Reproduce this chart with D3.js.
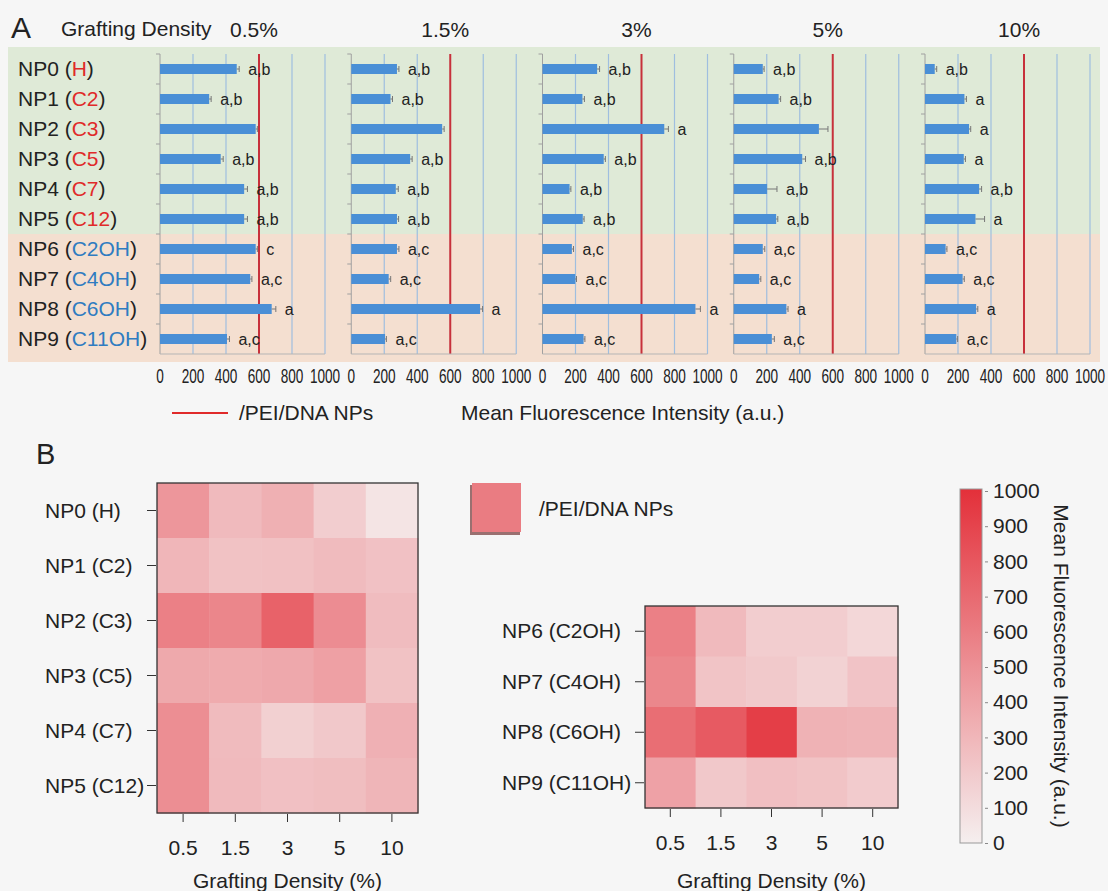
<!DOCTYPE html>
<html>
<head>
<meta charset="utf-8">
<script src="https://cdn.jsdelivr.net/npm/d3@7"></script>
<style>
  body { margin: 0; background: #f6f6f6; }
  text { font-family: "Liberation Sans", Arial, sans-serif; fill: #222; }
</style>
</head>
<body>
<svg id="chart" width="1108" height="891"></svg>
<script>
// ---- data ----
const particles = ["NP0", "NP1", "NP2", "NP3", "NP4", "NP5", "NP6", "NP7", "NP8", "NP9"];
const ligands = ["H", "C2", "C3", "C5", "C7", "C12", "C2OH", "C4OH", "C6OH", "C11OH"];
const densities = ["0.5", "1.5", "3", "5", "10"];

const mfi05 = [465, 298, 580, 368, 510, 510, 580, 547, 677, 406];
const mfi15 = [277, 238, 551, 357, 270, 277, 277, 227, 781, 205];
const mfi3 = [331, 242, 738, 371, 164, 244, 178, 198, 927, 249];
const mfi5 = [176, 272, 516, 415, 202, 257, 176, 154, 319, 231];
const mfi10 = [59, 239, 267, 235, 328, 306, 125, 228, 310, 190];

const err05 = [15, 12, 10, 15, 20, 20, 10, 10, 25, 15];
const err15 = [12, 12, 12, 12, 15, 10, 12, 12, 15, 8];
const err3 = [15, 12, 25, 10, 8, 8, 10, 8, 30, 8];
const err5 = [8, 12, 55, 20, 60, 10, 12, 10, 10, 15];
const err10 = [12, 12, 10, 10, 15, 55, 8, 10, 10, 8];

const sig05 = ["a,b", "a,b", "", "a,b", "a,b", "a,b", "c", "a,c", "a", "a,c"];
const sig15 = ["a,b", "a,b", "", "a,b", "a,b", "a,b", "a,c", "a,c", "a", "a,c"];
const sig3 = ["a,b", "a,b", "a", "a,b", "a,b", "a,b", "a,c", "a,c", "a", "a,c"];
const sig5 = ["a,b", "a,b", "", "a,b", "a,b", "a,b", "a,c", "a,c", "a", "a,c"];
const sig10 = ["a,b", "a", "a", "a", "a,b", "a", "a,c", "a,c", "a", "a,c"];

const pei = 600;   // /PEI/DNA NPs reference
const barTicks = [0, 200, 400, 600, 800, 1000];
const colorTicks = [0, 100, 200, 300, 400, 500, 600, 700, 800, 900, 1000];

const values = [mfi05, mfi15, mfi3, mfi5, mfi10];
const errors = [err05, err15, err3, err5, err10];
const letters = [sig05, sig15, sig3, sig5, sig10];

const svg = d3.select("#chart");
const red = "#e02a2a", blue = "#2f7cc1";
const FS = 21;

// ================= panel A =================
const rowY = d3.scaleBand().domain(particles).range([54, 354]);
const panelX = d3.scalePoint().domain(densities).range([160, 925]);
const x = d3.scaleLinear().domain([0, 1000]).range([0, 165]);

svg.append("rect").attr("x", 8).attr("y", 47).attr("width", 1092).attr("height", rowY("NP6") - 47)
    .attr("fill", "#dfead7");
svg.append("rect").attr("x", 8).attr("y", rowY("NP6")).attr("width", 1092).attr("height", 362 - rowY("NP6"))
    .attr("fill", "#f4dfd0");

svg.append("text").attr("x", 11).attr("y", 38).attr("font-size", 30).text("A");
svg.append("text").attr("x", 61).attr("y", 36).attr("font-size", FS).text("Grafting Density");

// row labels
const rowLab = svg.append("g").selectAll("text").data(particles).join("text")
    .attr("x", 18).attr("y", d => rowY(d) + rowY.bandwidth() / 2 + 7)
    .attr("font-size", FS);
rowLab.append("tspan").text(d => d + " (");
rowLab.append("tspan").attr("fill", (d, i) => i < 6 ? red : blue).text((d, i) => ligands[i]);
rowLab.append("tspan").text(")");

densities.forEach((dens, k) => {
    const g = svg.append("g").attr("transform", `translate(${panelX(dens)},0)`);
    const y0 = rowY.range()[0], y1 = rowY.range()[1];

    g.append("text").attr("x", x(570)).attr("y", 37).attr("text-anchor", "middle")
        .attr("font-size", FS).text(dens + "%");

    // grid
    g.selectAll("line.grid").data(barTicks.filter(t => t > 0)).join("line")
        .attr("class", "grid")
        .attr("x1", d => x(d)).attr("x2", d => x(d)).attr("y1", y0).attr("y2", y1)
        .attr("stroke", d => d === pei ? "#c7303b" : "#9fbedf")
        .attr("stroke-width", d => d === pei ? 2 : 1.2);

    // axis at 0 with ticks between categories
    g.append("line").attr("x1", 0).attr("x2", 0).attr("y1", y0).attr("y2", y1).attr("stroke", "#a0a0a0");
    g.append("line").attr("x1", 0).attr("x2", x(1000)).attr("y1", y1).attr("y2", y1).attr("stroke", "#b5b5b5");
    g.selectAll("line.tk").data(particles).join("line").attr("class", "tk")
        .attr("x1", -4).attr("x2", 0).attr("y1", d => rowY(d)).attr("y2", d => rowY(d))
        .attr("stroke", "#a0a0a0");

    const vals = values[k], errs = errors[k], sig = letters[k];
    const bh = 10;
    g.selectAll("rect.bar").data(particles).join("rect").attr("class", "bar")
        .attr("x", 0).attr("y", d => rowY(d) + rowY.bandwidth() / 2 - bh / 2)
        .attr("width", (d, i) => x(vals[i])).attr("height", bh)
        .attr("fill", "#4a8fd6");

    // error bars
    const eb = g.selectAll("g.err").data(particles).join("g").attr("class", "err")
        .attr("transform", d => `translate(0,${rowY(d) + rowY.bandwidth() / 2})`);
    eb.append("line").attr("x1", (d, i) => x(vals[i])).attr("x2", (d, i) => x(vals[i] + errs[i]))
        .attr("stroke", "#777").attr("stroke-width", 1);
    eb.append("line").attr("x1", (d, i) => x(vals[i] + errs[i])).attr("x2", (d, i) => x(vals[i] + errs[i]))
        .attr("y1", -3).attr("y2", 3).attr("stroke", "#777").attr("stroke-width", 1);

    g.selectAll("text.sig").data(particles).join("text").attr("class", "sig")
        .attr("x", (d, i) => x(vals[i] + errs[i]) + 9)
        .attr("y", d => rowY(d) + rowY.bandwidth() / 2 + 6)
        .attr("font-size", 16).text((d, i) => sig[i]);

    // condensed tick labels
    g.selectAll("text.tl").data(barTicks).join("text").attr("class", "tl")
        .attr("transform", d => `translate(${x(d)},383) scale(0.68,1)`)
        .attr("text-anchor", "middle").attr("font-size", 20).text(d => d);
});

// legend under A
svg.append("line").attr("x1", 172).attr("x2", 228).attr("y1", 413).attr("y2", 413)
    .attr("stroke", red).attr("stroke-width", 2);
svg.append("text").attr("x", 239).attr("y", 420).attr("font-size", FS).text("/PEI/DNA NPs");
svg.append("text").attr("x", 461).attr("y", 420).attr("font-size", FS).text("Mean Fluorescence Intensity (a.u.)");

// ================= panel B =================
svg.append("text").attr("x", 36).attr("y", 464).attr("font-size", 29).text("B");

const color = d3.scaleLinear().domain([0, 1000]).range(["#f5efef", "#e3303a"]);

function heatmap(rows, box, labelX) {
    const hx = d3.scaleBand().domain(densities).range([box.x0, box.x1]);
    const hy = d3.scaleBand().domain(rows).range([box.y0, box.y1]);
    const g = svg.append("g");
    rows.forEach(p => {
        const i = particles.indexOf(p);
        densities.forEach((dens, k) => {
            g.append("rect").attr("x", hx(dens)).attr("y", hy(p))
                .attr("width", hx.bandwidth() + 0.5).attr("height", hy.bandwidth() + 0.5)
                .attr("fill", color(values[k][i]));
        });
    });
    g.append("rect").attr("x", box.x0).attr("y", box.y0)
        .attr("width", box.x1 - box.x0).attr("height", box.y1 - box.y0)
        .attr("fill", "none").attr("stroke", "#333").attr("stroke-width", 1.3);

    const yAxis = g.append("g").attr("transform", `translate(${box.x0 - 1},0)`)
        .call(d3.axisLeft(hy).tickSize(9).tickFormat(""));
    yAxis.select(".domain").remove();
    yAxis.selectAll("line").attr("stroke", "#333");
    g.selectAll("text.rl").data(rows).join("text").attr("class", "rl")
        .attr("x", labelX).attr("y", p => hy(p) + hy.bandwidth() / 2 + 7)
        .attr("font-size", FS).text(p => `${p} (${ligands[particles.indexOf(p)]})`);

    const xAxis = g.append("g").attr("transform", `translate(0,${box.y1 + 1})`)
        .call(d3.axisBottom(hx).tickSize(8).tickPadding(18));
    xAxis.select(".domain").remove();
    xAxis.selectAll("line").attr("stroke", "#333");
    xAxis.selectAll("text").attr("font-size", FS).attr("fill", "#222")
        .style("font-family", "'Liberation Sans', Arial, sans-serif");

    g.append("text").attr("x", (box.x0 + box.x1) / 2).attr("y", 888).attr("text-anchor", "middle")
        .attr("font-size", FS).text("Grafting Density (%)");
}

heatmap(particles.slice(0, 6), {x0: 157, x1: 418, y0: 483, y1: 813}, 45);
heatmap(particles.slice(6), {x0: 645, x1: 898, y0: 606, y1: 808}, 502);

// legend square with shadow
svg.append("rect").attr("x", 470).attr("y", 485).attr("width", 50).attr("height", 50)
    .attr("fill", "#9a7070");
svg.append("rect").attr("x", 472).attr("y", 483).attr("width", 49).attr("height", 49)
    .attr("fill", color(pei));
svg.append("text").attr("x", 539).attr("y", 516).attr("font-size", FS).text("/PEI/DNA NPs");

// colour bar
const cb = {x: 960, w: 22, y0: 489, y1: 843};
const defs = svg.append("defs");
const grad = defs.append("linearGradient").attr("id", "cbar").attr("x1", 0).attr("x2", 0).attr("y1", 1).attr("y2", 0);
colorTicks.forEach(t => grad.append("stop").attr("offset", t / 1000).attr("stop-color", color(t)));
svg.append("rect").attr("x", cb.x).attr("y", cb.y0).attr("width", cb.w).attr("height", cb.y1 - cb.y0)
    .attr("fill", "url(#cbar)").attr("stroke", "#999").attr("stroke-width", 1);
const cy = d3.scaleLinear().domain([0, 1000]).range([cb.y1, cb.y0 + 2]);
const cAxis = svg.append("g").attr("transform", `translate(${cb.x + cb.w + 3},0)`)
    .call(d3.axisRight(cy).tickValues(colorTicks).tickSize(3).tickPadding(5).tickFormat(d3.format("d")));
cAxis.select(".domain").remove();
cAxis.selectAll("line").attr("stroke", "#888");
cAxis.selectAll("text").attr("font-size", FS).attr("fill", "#222")
    .style("font-family", "'Liberation Sans', Arial, sans-serif");
svg.append("text").attr("transform", `translate(1054,${(cb.y0 + cb.y1) / 2}) rotate(90)`)
    .attr("text-anchor", "middle").attr("font-size", FS).text("Mean Fluorescence Intensity (a.u.)");
</script>
</body>
</html>
